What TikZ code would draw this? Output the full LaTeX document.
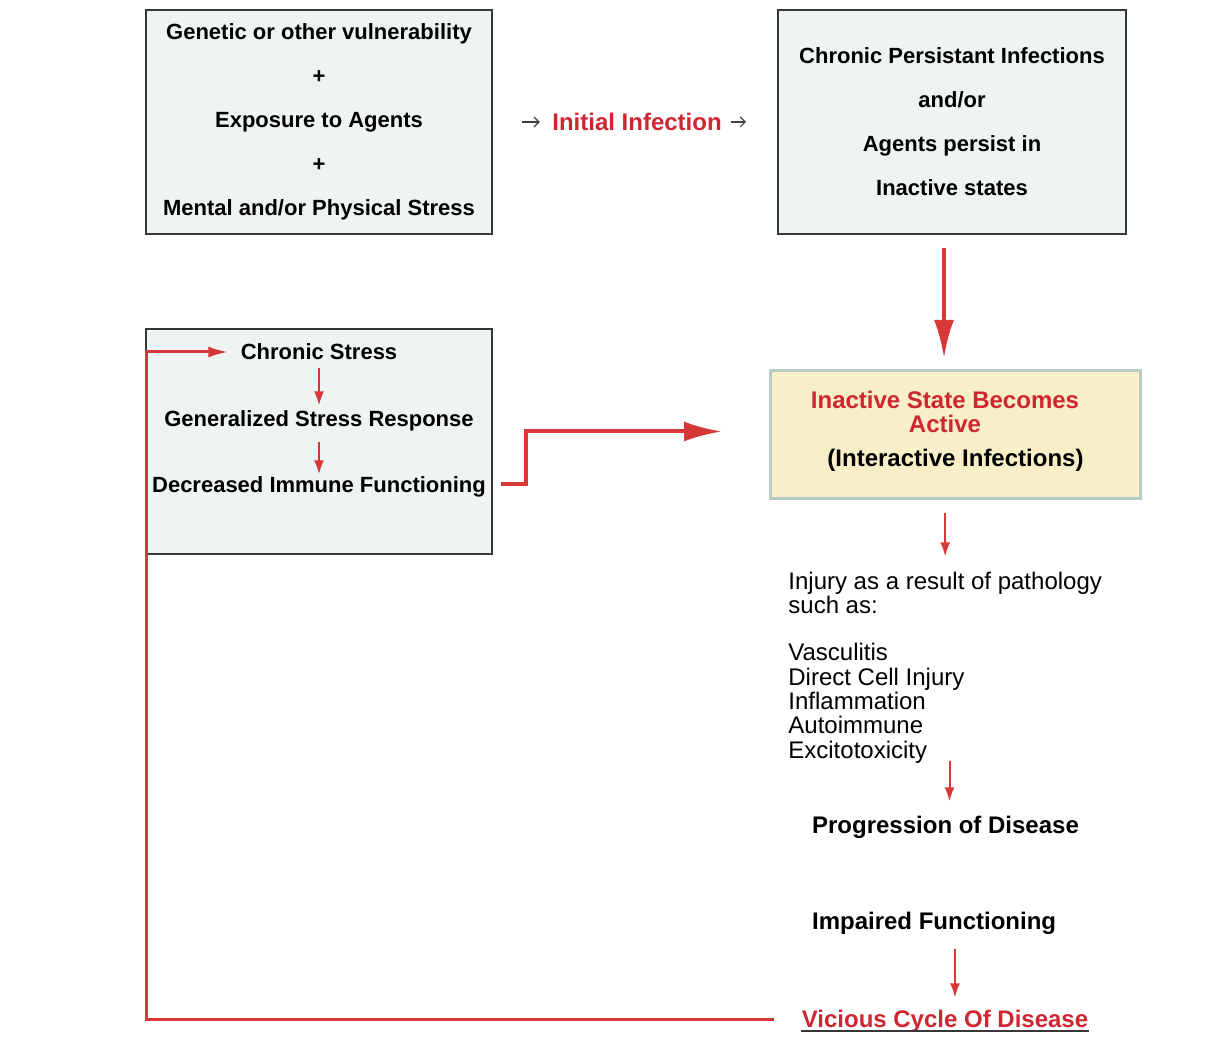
\documentclass[tikz,border=0pt]{standalone}
\usepackage{fontspec}
\setmainfont{Liberation Sans}
\usetikzlibrary{arrows.meta,positioning}
\definecolor{boxfill}{RGB}{238,243,243}
\definecolor{boxline}{RGB}{55,55,55}
\definecolor{activefill}{RGB}{248,238,200}
\definecolor{activeline}{RGB}{184,204,198}
\definecolor{diseasered}{RGB}{206,38,50}
\definecolor{arrowred}{RGB}{214,55,55}
\tikzset{
    infobox/.style={rectangle, draw=boxline, fill=boxfill, line width=1pt, align=center, font=\bfseries\fontsize{11}{22}\selectfont},
    activebox/.style={rectangle, draw=activeline, fill=activefill, line width=1.5pt, minimum width=185pt, minimum height=64pt},
    activetext/.style={inner sep=0pt, align=center, font=\bfseries\fontsize{12}{12}\selectfont},
    stresstext/.style={inner sep=0pt, font=\bfseries\fontsize{11}{13}\selectfont},
    steplabel/.style={inner sep=0pt, font=\bfseries\fontsize{12}{14}\selectfont},
    smallline/.style={draw=black!75, line width=0.6pt, -{Straight Barb[length=2.5pt,width=5pt]}},
    redline/.style={draw=arrowred, line width=1pt, -{Latex[length=7pt,width=5pt]}},
    bigline/.style={draw=arrowred, line width=2pt, -{Latex[length=19pt,width=10pt]}},
    loopline/.style={draw=arrowred, line width=1.5pt, -{Latex[length=10pt,width=5.5pt]}}
}
\begin{document}
\begin{tikzpicture}[x=0.5pt, y=0.5pt]
    \useasboundingbox (0,0) rectangle (1216,-1052);
    % top row
    \node [infobox, minimum width=173pt, minimum height=112pt] (genetic) at (319,-122) {Genetic or other vulnerability\\+\\Exposure to Agents\\+\\Mental and/or Physical Stress};
    \node [steplabel, text=diseasered, right of=genetic, node distance=159pt] (initial) {Initial Infection};
    \node [infobox, minimum width=174pt, minimum height=112pt, right of=genetic, node distance=316.5pt] (persist) {Chronic Persistant Infections\\and/or\\Agents persist in\\Inactive states};

    % stress box on the left
    \node [infobox, minimum width=173pt, minimum height=112.5pt, below of=genetic, node distance=159.75pt] (stressbox) {};
    \node [stresstext, below of=genetic, node distance=115pt] (chronicstress) {Chronic Stress};
    \node [stresstext, below of=chronicstress, node distance=34.5pt] (genstress) {Generalized Stress Response};
    \node [stresstext, below of=genstress, node distance=33pt] (immune) {Decreased Immune Functioning};

    % right column
    \node [activebox] (active) at (955.5,-434.5) {};
    \node [activetext, text=diseasered] (becomes) at ([xshift=-5.25pt, yshift=11.25pt]active.center) {Inactive State Becomes\\Active};
    \node [activetext] (interactive) at ([yshift=-12.75pt]active.center) {(Interactive Infections)};
    \node [inner sep=0pt, anchor=west, align=left, font=\fontsize{12}{12.2}\selectfont] (injury) at (788,-667.5) {Injury as a result of pathology\\such as:\\[11.3pt]Vasculitis\\Direct Cell Injury\\Inflammation\\Autoimmune\\Excitotoxicity};
    \node [steplabel] (progression) at (945.5,-827) {Progression of Disease};
    \node [steplabel, anchor=west] (impaired) at ([yshift=-48pt]progression.west) {Impaired Functioning};
    \node [steplabel, text=diseasered] (vicious) at (945,-1021) {Vicious Cycle Of Disease};
    \draw [boxline, line width=1pt] ([yshift=1pt]vicious.south west) -- ([yshift=1pt]vicious.south east);
    \coordinate (loopcorner) at (146,-1019);

    \path [smallline, shorten <=14.5pt, shorten >=6pt] (genetic) -- (initial);
    \path [smallline, shorten <=4.5pt, shorten >=15.5pt] (initial) -- (persist);
    \path [bigline, shorten <=6.5pt, shorten >=5.5pt] ([xshift=-4pt]persist.south) -- ([xshift=-4pt]persist.south |- active.north);
    \path [redline, shorten <=4pt, shorten >=2.5pt] (chronicstress) -- (genstress);
    \path [redline, shorten <=5pt, shorten >=1pt] (genstress) -- (immune);
    \path [bigline, shorten <=7.5pt, shorten >=23.5pt] ([yshift=1.5pt]immune.east) -- ++(40,0) |- ([yshift=1.5pt]active.west);
    \path [redline, shorten <=6.5pt, shorten >=7.5pt] (injury.north |- active.south) -- (injury.north);
    \path [redline, shorten <=-1.5pt, shorten >=7pt] ([xshift=2pt]progression.north |- injury.south) -- ([xshift=2pt]progression.north);
    \path [redline, shorten <=7pt, shorten >=6pt] ([xshift=5pt]vicious.north |- impaired.south) -- ([xshift=5pt]vicious.north);
    \path [loopline, shorten <=13.5pt, shorten >=6pt] (loopcorner -| vicious.west) -- (loopcorner) |- (chronicstress.west);
\end{tikzpicture}
\end{document}
